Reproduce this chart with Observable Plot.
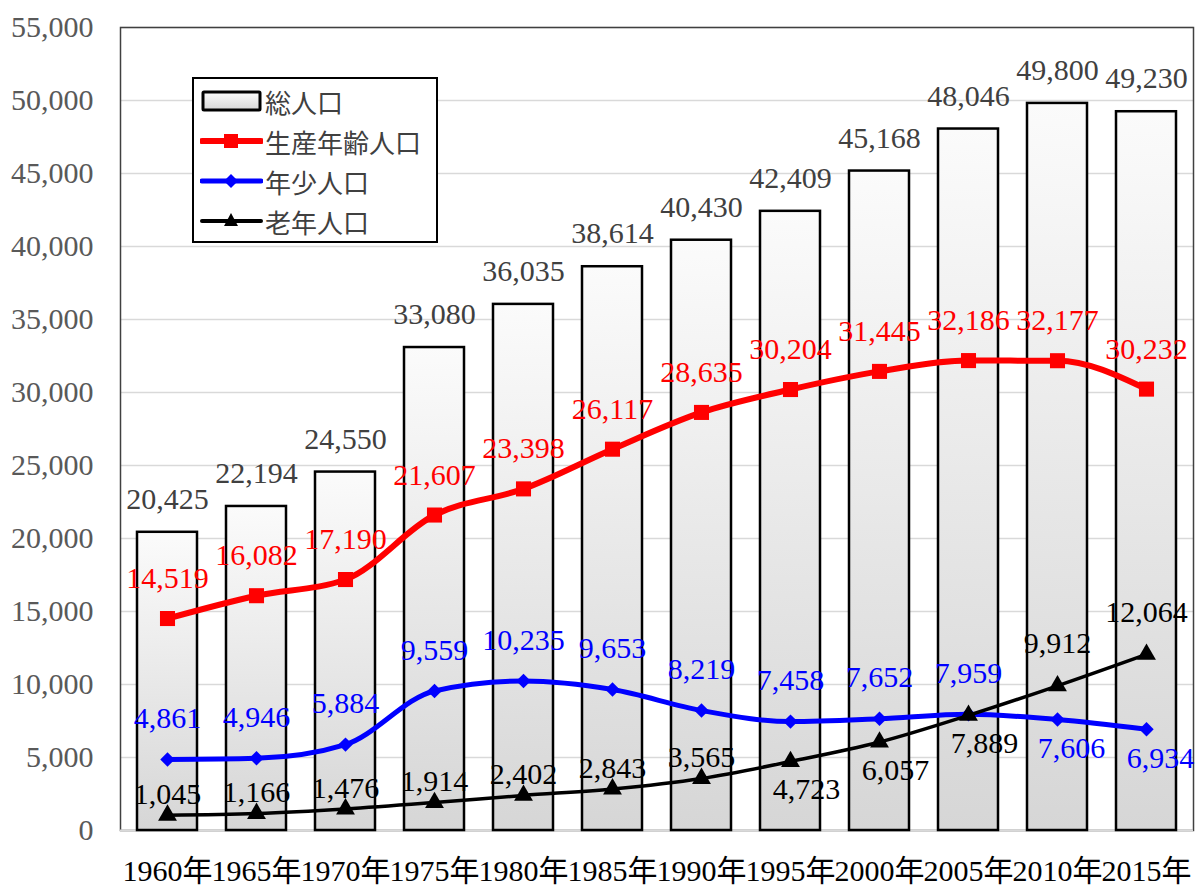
<!DOCTYPE html>
<html><head><meta charset="utf-8">
<script src="https://cdn.jsdelivr.net/npm/d3@7"></script>
<script src="https://cdn.jsdelivr.net/npm/@observablehq/plot@0.6"></script>
<style>
body{margin:0;background:#fff;}
#wrap{position:relative;width:1199px;height:885px;font-family:'Liberation Serif','Noto Sans CJK JP',serif;}
#legend{position:absolute;left:192px;top:77px;width:246px;height:166px;box-sizing:border-box;border:2px solid #000;background:#fff;padding-top:2px;}
.row{display:flex;align-items:center;height:40px;font-size:26px;color:#404040;font-family:'Noto Sans CJK JP',sans-serif;}
.row svg{margin-left:6px;margin-right:2px;display:block}
svg g[aria-label^="y-axis"], svg g[aria-label^="y-axis"] text{fill:#595959;}
svg text{font-family:'Liberation Serif','Noto Sans CJK JP',serif;}
</style></head><body><div id="wrap"><div id="legend"></div></div>
<script>
const years = [1960,1965,1970,1975,1980,1985,1990,1995,2000,2005,2010,2015];
const total = [20425,22194,24550,33080,36035,38614,40430,42409,45168,48046,49800,49230];
const working = [14519,16082,17190,21607,23398,26117,28635,30204,31445,32186,32177,30232];
const young = [4861,4946,5884,9559,10235,9653,8219,7458,7652,7959,7606,6934];
const elderly = [1045,1166,1476,1914,2402,2843,3565,4723,6057,7889,9912,12064];
const yTicks = [0,5000,10000,15000,20000,25000,30000,35000,40000,45000,50000,55000];
const seriesNames = ["総人口","生産年齢人口","年少人口","老年人口"];

const rows = years.map((y,i)=>({year:y,total:total[i],working:working[i],young:young[i],elderly:elderly[i],i}));
const fmt = d3.format(",");

const lbl = (key, color, opts) => Plot.text(rows, {x:"year", y:key, text:d=>fmt(d[key]), fill:color, ...opts});

const chart = Plot.plot({
  width:1199, height:885,
  marginLeft:120, marginRight:6, marginTop:27, marginBottom:55,
  style:{fontFamily:"'Liberation Serif','Noto Sans CJK JP',serif", fontSize:"30px", background:"white", overflow:"visible"},
  x:{type:"band", domain:years, paddingInner:0.33, paddingOuter:0.165, tickFormat:d=>d+"年", tickSize:0, tickPadding:29, label:null},
  y:{domain:[0,55000], ticks:yTicks, tickFormat:d=>fmt(d), tickSize:0, tickPadding:27, label:null},
  marks:[
    Plot.ruleY(yTicks,{stroke:"#d9d9d9", strokeWidth:1.5}),
    Plot.frame({stroke:"#404040", strokeWidth:1.5}),
    Plot.ruleY([0],{stroke:"#d9d9d9", strokeWidth:2}),
    Plot.barY(rows,{x:"year", y:"total", fill:"url(#barGrad)", stroke:"#000", strokeWidth:2.5}),
    lbl("total","#404040",{dy:-33}),
    Plot.line(rows,{x:"year", y:"working", stroke:"#ff0000", strokeWidth:6, curve:"monotone-x"}),
    Plot.dot(rows,{x:"year", y:"working", symbol:"square", r:8.5, fill:"#ff0000", stroke:null}),
    Plot.line(rows,{x:"year", y:"young", stroke:"#0000ff", strokeWidth:5, curve:"monotone-x"}),
    Plot.dot(rows,{x:"year", y:"young", symbol:"diamond2", r:6.5, fill:"#0000ff", stroke:null}),
    Plot.line(rows,{x:"year", y:"elderly", stroke:"#000", strokeWidth:3.5, curve:"monotone-x"}),
    Plot.dot(rows,{x:"year", y:"elderly", symbol:"triangle", r:7, fill:"#000", stroke:null}),
    lbl("working","#ff0000",{dy:-40}),
    lbl("young","#0000ff",{dy:-41, filter:d=>d.i<10}),
    lbl("young","#0000ff",{dy:29, dx:14, filter:d=>d.i>=10}),
    lbl("elderly","#000",{dy:-21, filter:d=>d.i<7}),
    lbl("elderly","#000",{dy:28, dx:16, filter:d=>d.i>=7 && d.i<10}),
    lbl("elderly","#000",{dy:-42, filter:d=>d.i>=10})
  ]
});
d3.select(chart).insert("defs",":first-child").html(
  '<linearGradient id="barGrad" x1="0" y1="0" x2="0" y2="1"><stop offset="0" stop-color="#fbfbfb"/><stop offset="1" stop-color="#d6d6d6"/></linearGradient>');
document.getElementById("wrap").prepend(chart);

// legend
const legendStyles = [
  {type:"bar"},
  {type:"line", color:"#ff0000", w:6, sym:"square"},
  {type:"line", color:"#0000ff", w:5, sym:"diamond"},
  {type:"line", color:"#000", w:4, sym:"triangle"}
];
const leg = document.getElementById("legend");
seriesNames.forEach((name,k)=>{
  const s = legendStyles[k];
  let inner;
  if (s.type==="bar") {
    inner = '<defs><linearGradient id="lg" x1="0" y1="0" x2="0" y2="1"><stop offset="0" stop-color="#fbfbfb"/><stop offset="1" stop-color="#d6d6d6"/></linearGradient></defs><rect x="3" y="11" width="57" height="18" fill="url(#lg)" stroke="#000" stroke-width="3" rx="1"/>';
  } else {
    let m = "";
    if (s.sym==="square") m = `<rect x="24" y="13" width="14" height="14" fill="${s.color}"/>`;
    if (s.sym==="diamond") m = `<path d="M31 13 L38 20 L31 27 L24 20 Z" fill="${s.color}"/>`;
    if (s.sym==="triangle") m = `<path d="M31 12 L38 25 L24 25 Z" fill="${s.color}"/>`;
    inner = `<line x1="2" y1="20" x2="61" y2="20" stroke="${s.color}" stroke-width="${s.w}" stroke-linecap="round"/>${m}`;
  }
  const row = document.createElement("div");
  row.className="row";
  row.innerHTML = `<svg width="63" height="40">${inner}</svg><span>${name}</span>`;
  leg.appendChild(row);
});
</script>
</body></html>
